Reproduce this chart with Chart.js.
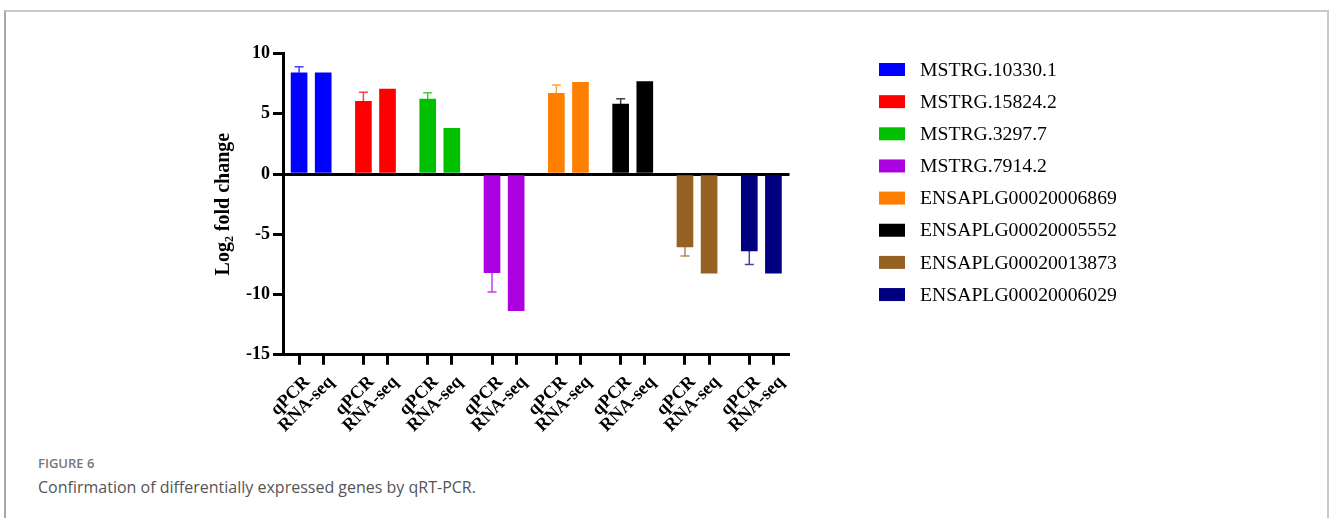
<!DOCTYPE html>
<html>
<head>
<meta charset="utf-8">
<script src="https://cdn.jsdelivr.net/npm/chart.js@4.4.0/dist/chart.umd.min.js"></script>
<style>
  html, body { margin: 0; padding: 0; background: #fff; }
  body { width: 1330px; height: 518px; position: relative; overflow: hidden; font-family: 'Open Sans', sans-serif; }
  .frame { position: absolute; left: 4px; top: 10px; width: 1321px; height: 600px;
           border-top: 2px solid #c8c8c8; border-right: 2px solid #c8c8c8; border-left: 2px solid #a8a8a8; }
  #wrap { position: absolute; left: 0; top: 0; width: 1330px; height: 440px; }
  .fig { position: absolute; left: 38px; top: 456.5px; font-size: 13px; line-height: 13px; font-weight: 600; color: #777; }
  .cap { position: absolute; left: 38px; top: 478.5px; font-size: 16px; line-height: 16px; color: #555; }
</style>
</head>
<body>
<div class="frame"></div>
<div id="wrap"><canvas id="chart"></canvas></div>
<div class="fig">FIGURE 6</div>
<div class="cap">Confirmation of differentially expressed genes by qRT-PCR.</div>
<script>
// genes, one colour each
const genes = ['MSTRG.10330.1', 'MSTRG.15824.2', 'MSTRG.3297.7', 'MSTRG.7914.2',
  'ENSAPLG00020006869', 'ENSAPLG00020005552', 'ENSAPLG00020013873', 'ENSAPLG00020006029'];
const colors = ['#0000ff', '#ff0000', '#00c000', '#ab00e0', '#ff8000', '#000000', '#956223', '#000080'];
const methods = ['qPCR', 'RNA-seq'];

// log2 fold change
const qpcr = [8.4, 6.03, 6.22, -8.19, 6.7, 5.81, -6.06, -6.39];
const qpcrErr = [0.5, 0.75, 0.53, 1.6, 0.69, 0.44, 0.74, 1.13];
const rnaseq = [8.4, 7.05, 3.79, -11.34, 7.61, 7.66, -8.24, -8.24];
const yTicks = [10, 5, 0, -5, -10, -15];

// each gene gets 8 slots on the x axis, bars sit in slot 2 and 5
const slot = (g, m) => g * 8 + (m === 0 ? 2 : 5);
const xTicks = [];
genes.forEach((g, i) => { xTicks.push(slot(i, 0), slot(i, 1)); });

const serif = "'Liberation Serif', 'Times New Roman', serif";

const errorBars = {
  id: 'errorBars',
  afterDatasetsDraw(chart) {
    const ctx = chart.ctx, y = chart.scales.y;
    chart.data.datasets.forEach((ds, i) => {
      const bar = chart.getDatasetMeta(i).data[0];
      const v = qpcr[i];
      const end = y.getPixelForValue(v + Math.sign(v) * qpcrErr[i]);
      ctx.save();
      ctx.strokeStyle = ds.backgroundColor;
      ctx.globalAlpha = 0.75;
      ctx.lineWidth = 1.5;
      ctx.beginPath();
      ctx.moveTo(bar.x, bar.y);
      ctx.lineTo(bar.x, end);
      ctx.moveTo(bar.x - 4.5, end);
      ctx.lineTo(bar.x + 4.5, end);
      ctx.stroke();
      ctx.restore();
    });
  }
};

const sideLegend = {
  id: 'sideLegend',
  afterDraw(chart) {
    const ctx = chart.ctx;
    ctx.save();
    ctx.font = '19.7px ' + serif;
    ctx.textBaseline = 'middle';
    chart.data.datasets.forEach((ds, i) => {
      const cy = 69.5 + i * 32.15;
      ctx.fillStyle = ds.backgroundColor;
      ctx.fillRect(879, cy - 6.5, 26, 13);
      ctx.fillStyle = '#000';
      ctx.fillText(ds.label, 920, cy + 1);
    });
    ctx.restore();
  }
};

new Chart(document.getElementById('chart'), {
  type: 'bar',
  data: {
    datasets: genes.map((g, i) => ({
      label: g,
      backgroundColor: colors[i],
      borderWidth: 0,
      barThickness: 16,
      grouped: false,
      data: [{ x: slot(i, 0), y: qpcr[i] }, { x: slot(i, 1), y: rnaseq[i] }]
    }))
  },
  options: {
    responsive: true,
    maintainAspectRatio: false,
    animation: false,
    layout: { padding: { left: 200, top: 53.5, right: 540.5, bottom: 0 } },
    plugins: { legend: { display: false }, tooltip: { enabled: false } },
    scales: {
      x: {
        type: 'linear',
        offset: false,
        min: 0,
        max: 63,
        afterBuildTicks: axis => { axis.ticks = xTicks.map(v => ({ value: v })); },
        afterFit: axis => { axis.height = 85.25; },
        border: { display: true, color: '#000', width: 3 },
        grid: { offset: false, drawOnChartArea: false, tickLength: 10, tickWidth: 3, tickColor: '#000' },
        ticks: {
          autoSkip: false, maxRotation: 45, minRotation: 45, padding: 7, labelOffset: 8,
          color: '#000', font: { family: serif, size: 18, weight: 'bold' },
          callback: v => methods[xTicks.indexOf(v) % 2]
        }
      },
      y: {
        min: -15,
        max: 10,
        afterBuildTicks: axis => { axis.ticks = yTicks.map(v => ({ value: v })); },
        afterFit: axis => { axis.width = 83; },
        border: { display: true, color: '#000', width: 3 },
        grid: {
          color: c => (c.tick && c.tick.value === 0 ? '#000' : 'rgba(0,0,0,0)'),
          lineWidth: 3, tickLength: 10, tickWidth: 3, tickColor: '#000'
        },
        ticks: { padding: 3, color: '#000', font: { family: serif, size: 18, weight: 'bold' } },
        title: {
          display: true, text: 'Log₂ fold change', color: '#000',
          font: { family: serif, size: 20, weight: 'bold' }, padding: { top: 12, bottom: 4 }
        }
      }
    }
  },
  plugins: [errorBars, sideLegend]
});
</script>
</body>
</html>
